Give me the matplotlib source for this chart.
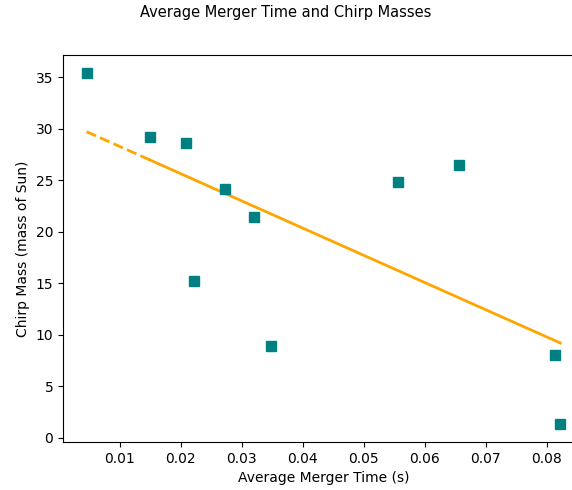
import numpy as np
import matplotlib.pyplot as plt

# average merger time (s) and chirp mass (solar masses) per event
merger_time = [0.00455, 0.0149, 0.0209, 0.0221, 0.0272, 0.0320,
               0.0348, 0.0556, 0.0656, 0.0814, 0.0822]
chirp_mass = [35.4, 29.2, 28.6, 15.2, 24.1, 21.4,
              8.9, 24.8, 26.5, 8.0, 1.3]

x = np.array(merger_time)
y = np.array(chirp_mass)

# least squares line through the points
slope, intercept = np.polyfit(x, y, 1)
xs = np.sort(x)
fit = slope * xs + intercept

fig = plt.figure(figsize=(5.72, 4.9), dpi=100)
ax = fig.add_axes([0.110, 0.098, 0.911, 0.789])

ax.plot(xs[:2], fit[:2], color='orange', linestyle='--', linewidth=2)
ax.plot(xs[1:], fit[1:], color='orange', linestyle='-', linewidth=2)
ax.plot(x, y, 's', color='teal', markersize=7)

ax.set_xlabel('Average Merger Time (s)')
ax.set_ylabel('Chirp Mass (mass of Sun)')
fig.suptitle('Average Merger Time and Chirp Masses', fontsize=10.5, y=0.99)

fig.savefig('out.png', dpi=100)
